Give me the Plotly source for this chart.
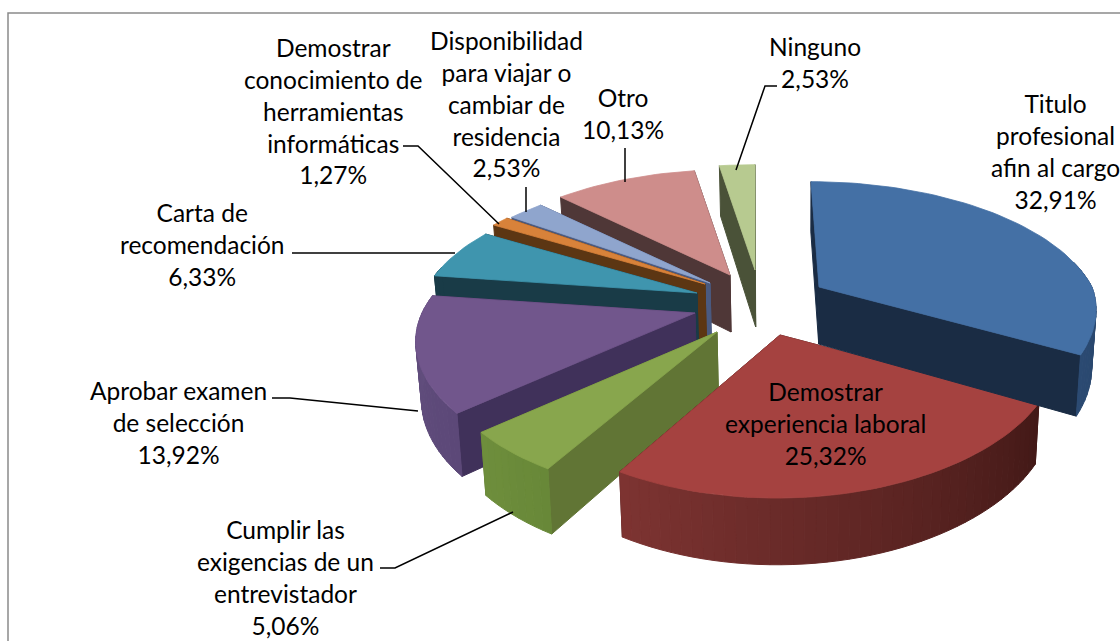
import math
import plotly.graph_objects as go

# ---- data ----
categories = ["Titulo<br>profesional<br>afin al cargo",
              "Demostrar<br>experiencia laboral",
              "Cumplir las<br>exigencias de un<br>entrevistador",
              "Aprobar examen<br>de selección",
              "Carta de<br>recomendación",
              "Demostrar<br>conocimiento de<br>herramientas<br>informáticas",
              "Disponibilidad<br>para viajar o<br>cambiar de<br>residencia",
              "Otro",
              "Ninguno"]
values = [32.91, 25.32, 5.06, 13.92, 6.33, 1.27, 2.53, 10.13, 2.53]

# ---- style / layout ----
top_colors = ["#4470a5", "#a54240", "#88a64d", "#71568c", "#3f95ae", "#d8823a", "#8fa5cd", "#ce8d8b", "#b7ca90"]
wall_colors = ["#1a2c44", "#4a1c1a", "#617535", "#40315a", "#193b47", "#5c3613", "#4a5a80", "#4f3737", "#4a5238"]
rim_start = ["#1f3555", "#431917", "#688838", "#5c4878", "#193b47", "#5c3613", "#4a5a80", "#4f3737", "#4a5238"]
rim_end = ["#2b4a72", "#7e3432", "#6f8f3d", "#63507f", "#193b47", "#5c3613", "#4a5a80", "#4f3737", "#4a5238"]
apex_px = [(819, 287), (780, 335), (717, 332), (695, 313), (697, 293), (705, 284), (710, 283), (730, 275), (755, 270)]
lean_px = [8, 0, 0, 0, 0, 0, 0, 0, 0]
paint_order = [8, 7, 6, 5, 4, 3, 2, 1, 0]
RX, RY, K = 273.0, 128.0, 0.215
VPX = 800.0
label_pos = [(1055, 151), (825, 423), (285, 577), (178, 422), (202, 244), (333, 111), (506, 104), (623, 113), (815, 62)]
leaders = [[(777, 86), (765, 86), (736, 170)], [(526, 187), (526, 212)], [(625, 148), (625, 182)],
           [(403, 146), (418, 146), (499, 224)], [(292, 253), (455, 253)],
           [(272, 398), (290, 398), (418, 411)], [(380, 568), (395, 568), (513, 512)]]


def rim_offset(a, ax, lean):
    u, v = math.sin(a), -math.cos(a)
    s = 1 / (1 - K * v)
    sx = s ** 0.75 if s > 1 else s
    dx = RX * u * sx + (ax - VPX) * max(s - 1, 0) * 0.6 + lean * min(v, 0)
    return dx, RY * v * s, s


def drop(x, y, s):
    h = 57 * s ** 0.65
    return VPX + (x - VPX) * 0.985, y + h


def mix(c1, c2, t):
    a = [int(c1[i:i + 2], 16) for i in (1, 3, 5)]
    b = [int(c2[i:i + 2], 16) for i in (1, 3, 5)]
    return "rgb(%d,%d,%d)" % tuple(round(p + (q - p) * t) for p, q in zip(a, b))


fig = go.Figure()


def poly(pts, color, lw=1.0):
    xs = [p[0] for p in pts] + [pts[0][0]]
    ys = [p[1] for p in pts] + [pts[0][1]]
    fig.add_trace(go.Scatter(x=xs, y=ys, mode="lines", fill="toself", fillcolor=color,
                             line=dict(color=color, width=lw), hoverinfo="skip", showlegend=False))


total = sum(values)
edges = [0.0]
for val in values:
    edges.append(edges[-1] + val / total * 2 * math.pi)

for i in paint_order:
    a0, a1 = edges[i], edges[i + 1]
    ax, ay = apex_px[i]
    n = max(3, int((a1 - a0) / math.radians(2)))
    angs = [a0 + (a1 - a0) * j / n for j in range(n + 1)]
    rim = []
    for a in angs:
        dx, dy, s = rim_offset(a, ax, lean_px[i])
        rim.append((ax + dx, ay + dy, s, a))
    abot = drop(ax, ay, 1.0)
    # radial walls
    for r in (rim[-1], rim[0]):
        rb = drop(r[0], r[1], r[2])
        poly([(ax, ay), (r[0], r[1]), rb, abot], wall_colors[i])
    # outer curved wall, shaded along the arc
    for j in range(n):
        p, q = rim[j], rim[j + 1]
        if -math.cos(p[3]) < -0.2 and -math.cos(q[3]) < -0.2:
            continue
        poly([(p[0], p[1]), (q[0], q[1]), drop(q[0], q[1], q[2]), drop(p[0], p[1], p[2])],
             mix(rim_start[i], rim_end[i], j / n))
    # top face
    poly([(ax, ay)] + [(r[0], r[1]) for r in rim], top_colors[i], 0.8)

for seg in leaders:
    fig.add_trace(go.Scatter(x=[p[0] for p in seg], y=[p[1] for p in seg], mode="lines",
                             line=dict(color="#000000", width=1.5), hoverinfo="skip", showlegend=False))

for cat, val, (lx, ly) in zip(categories, values, label_pos):
    txt = cat + "<br>" + f"{val:.2f}".replace(".", ",") + "%"
    fig.add_annotation(x=lx, y=ly, text=txt, showarrow=False, align="center",
                       font=dict(family="Lato", size=24.5, color="#000000"))

fig.add_shape(type="rect", x0=8, y0=13, x1=1140, y1=660, line=dict(color="#8a8a8a", width=1.5), layer="below")
fig.update_layout(width=1120, height=641, margin=dict(l=0, r=0, t=0, b=0),
                  paper_bgcolor="#ffffff", plot_bgcolor="#ffffff", showlegend=False,
                  xaxis=dict(range=[0, 1120], visible=False, fixedrange=True),
                  yaxis=dict(range=[641, 0], visible=False, fixedrange=True))
fig.write_html("out.html", config={"displayModeBar": False},
               post_script="document.body.style.margin='0';document.documentElement.style.overflow='hidden';")
